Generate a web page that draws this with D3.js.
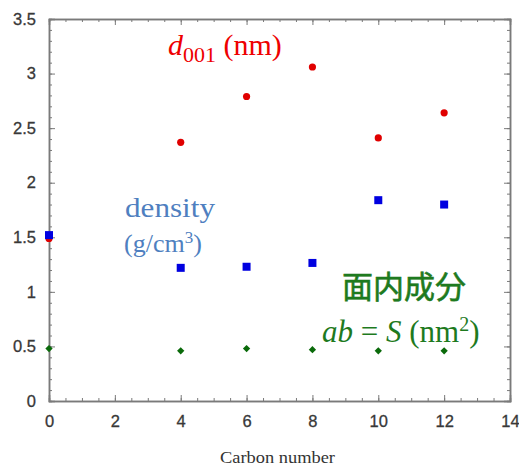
<!DOCTYPE html>
<html>
<head>
<meta charset="utf-8">
<script src="https://cdn.jsdelivr.net/npm/d3@7"></script>
<style>
  body { margin: 0; background: #fff; }
  .tick text { font-family: "Liberation Sans", Arial, sans-serif; }
</style>
</head>
<body>
<div id="chart"></div>
<script>
// data
const carbon = [0, 4, 6, 8, 10, 12];
const d001 = [1.49, 2.37, 2.79, 3.06, 2.41, 2.64];
const density = [1.52, 1.22, 1.23, 1.265, 1.84, 1.80];
const areaS = [0.48, 0.46, 0.48, 0.47, 0.46, 0.46];

const xTicks = [0, 2, 4, 6, 8, 10, 12, 14];
const yTicks = [0, 0.5, 1, 1.5, 2, 2.5, 3, 3.5];

const margin = {top: 19, right: 9, bottom: 65, left: 49},
  width = 519 - margin.left - margin.right,
  height = 466 - margin.top - margin.bottom;

const svg = d3.select("#chart")
  .append("svg")
  .attr("width", 519)
  .attr("height", 466)
  .append("g")
  .attr("transform", `translate(${margin.left}, ${margin.top})`);

const x = d3.scaleLinear().domain([0, 14]).range([0, width]);
const y = d3.scaleLinear().domain([0, 3.5]).range([height, 0]);

const axisColor = "#7a7a7a";
const xMinor = d3.range(0, 14.01, 0.5);
const yMinor = d3.range(0, 3.501, 0.1);

function styleAxis(g, labels) {
  g.select(".domain").attr("stroke", axisColor).attr("stroke-width", 1.5);
  g.selectAll(".tick line").attr("stroke", axisColor).attr("stroke-width", 1);
  if (labels) {
    g.selectAll(".tick text")
      .style("font-size", "16.5px")
      .attr("fill", "#383838")
      .attr("stroke", "#383838")
      .attr("stroke-width", 0.3);
  } else {
    g.selectAll(".tick text").remove();
  }
}

// bottom
svg.append("g").attr("transform", `translate(0, ${height})`)
  .call(d3.axisBottom(x).tickValues(xMinor).tickSize(-3).tickFormat(""))
  .call(g => styleAxis(g, false));
svg.append("g").attr("transform", `translate(0, ${height})`)
  .call(d3.axisBottom(x).tickValues(xTicks).tickSize(-6).tickPadding(14).tickFormat(d3.format("d")))
  .call(g => styleAxis(g, true));
// top
svg.append("g")
  .call(d3.axisTop(x).tickValues(xMinor).tickSize(-3).tickFormat(""))
  .call(g => styleAxis(g, false));
svg.append("g")
  .call(d3.axisTop(x).tickValues(xTicks).tickSize(-6).tickFormat(""))
  .call(g => styleAxis(g, false));
// left
svg.append("g")
  .call(d3.axisLeft(y).tickValues(yMinor).tickSize(-3).tickFormat(""))
  .call(g => styleAxis(g, false));
svg.append("g")
  .call(d3.axisLeft(y).tickValues(yTicks).tickSize(-6).tickPadding(13).tickFormat(d => d))
  .call(g => styleAxis(g, true));
// right
svg.append("g").attr("transform", `translate(${width}, 0)`)
  .call(d3.axisRight(y).tickValues(yMinor).tickSize(-3).tickFormat(""))
  .call(g => styleAxis(g, false));
svg.append("g").attr("transform", `translate(${width}, 0)`)
  .call(d3.axisRight(y).tickValues(yTicks).tickSize(-6).tickFormat(""))
  .call(g => styleAxis(g, false));

svg.append("text")
  .attr("x", 171)
  .attr("y", height + 62)
  .attr("textLength", 115)
  .attr("lengthAdjust", "spacingAndGlyphs")
  .style("font-family", "Liberation Serif, serif")
  .style("font-size", "16px")
  .attr("fill", "#333")
  .text("Carbon number");

// markers
svg.selectAll(".red")
  .data(carbon)
  .join("circle")
    .attr("cx", d => x(d))
    .attr("cy", (d, i) => y(d001[i]))
    .attr("r", 3.6)
    .attr("fill", "#e00000");

svg.selectAll(".blue")
  .data(carbon)
  .join("rect")
    .attr("x", d => x(d) - 4)
    .attr("y", (d, i) => y(density[i]) - 4)
    .attr("width", 8)
    .attr("height", 8)
    .attr("fill", "#0000e0");

svg.selectAll(".green")
  .data(carbon)
  .join("path")
    .attr("d", d3.symbol().type(d3.symbolDiamond2).size(34))
    .attr("transform", (d, i) => `translate(${x(d)}, ${y(areaS[i])})`)
    .attr("fill", "#0a6a0a");

// annotations
const serif = "Liberation Serif, 'Times New Roman', serif";

const t1 = svg.append("text")
  .attr("x", 119).attr("y", 36)
  .style("font-family", serif)
  .style("font-size", "30px")
  .attr("fill", "#ee0000");
t1.append("tspan").style("font-style", "italic").text("d");
t1.append("tspan").attr("dy", 7).style("font-size", "22px").text("001");
t1.append("tspan").attr("dy", -7).text(" (nm)");

svg.append("text")
  .attr("x", 76).attr("y", 198)
  .attr("textLength", 90)
  .attr("lengthAdjust", "spacingAndGlyphs")
  .style("font-family", serif)
  .style("font-size", "27px")
  .attr("fill", "#4f7fc0")
  .text("density");
const t2 = svg.append("text")
  .attr("x", 75).attr("y", 233)
  .style("font-family", serif)
  .style("font-size", "26px")
  .attr("fill", "#4f7fc0");
t2.append("tspan").text("(g/cm");
t2.append("tspan").attr("dy", -9).style("font-size", "17px").text("3");
t2.append("tspan").attr("dy", 9).text(")");

svg.append("text")
  .attr("x", 293).attr("y", 279)
  .style("font-family", "'Noto Sans CJK JP', sans-serif")
  .style("font-size", "31px")
  .attr("fill", "#1e7a1e")
  .attr("stroke", "#1e7a1e")
  .attr("stroke-width", 0.6)
  .text("面内成分");

const t3 = svg.append("text")
  .attr("x", 273).attr("y", 323)
  .style("font-family", serif)
  .style("font-size", "31px")
  .attr("fill", "#1e7a1e");
t3.append("tspan").style("font-style", "italic").text("ab");
t3.append("tspan").text(" = ");
t3.append("tspan").style("font-style", "italic").text("S");
t3.append("tspan").text(" (nm");
t3.append("tspan").attr("dy", -11).style("font-size", "20px").text("2");
t3.append("tspan").attr("dy", 11).text(")");
</script>
</body>
</html>
